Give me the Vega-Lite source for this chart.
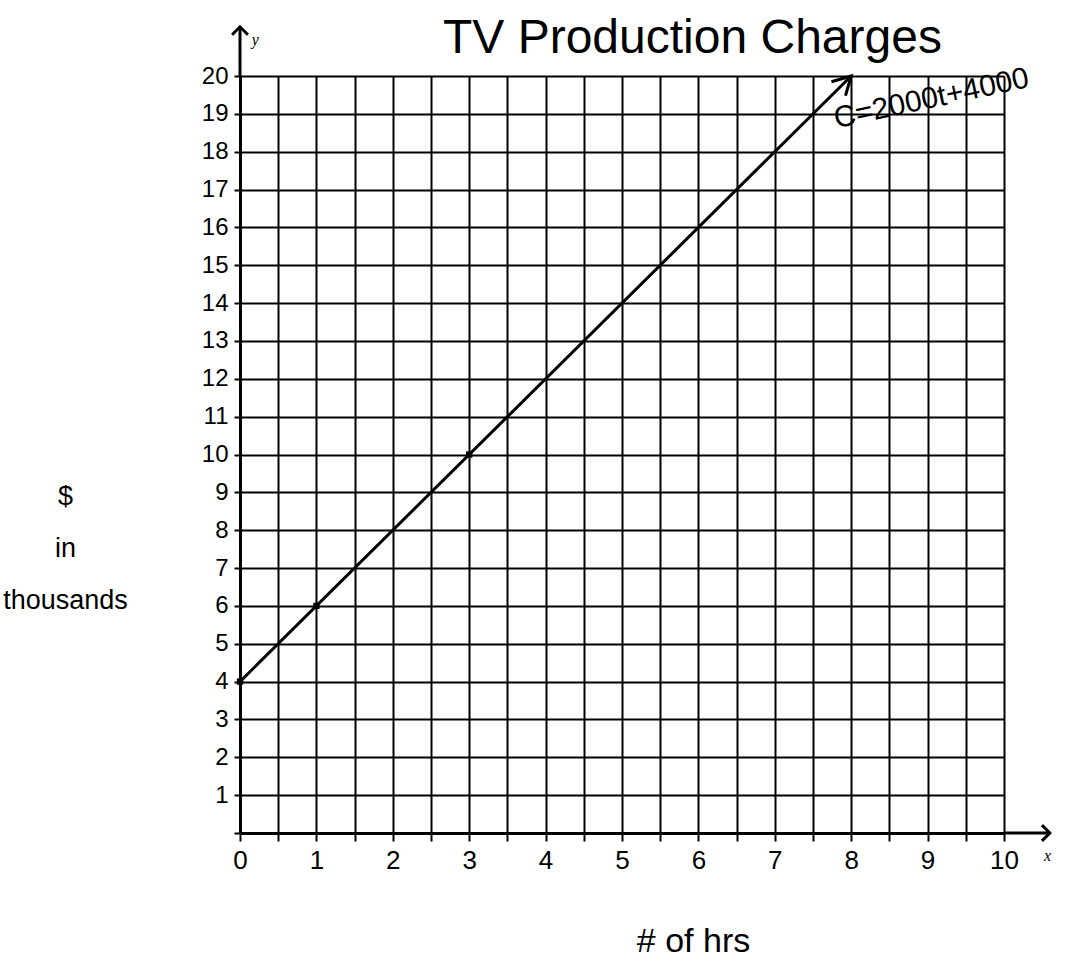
{
  "$schema": "https://vega.github.io/schema/vega-lite/v6.json",
  "autosize": {"type": "none"},
  "padding": {"left": 240, "top": 76, "right": 87, "bottom": 133},
  "width": 764,
  "height": 757,
  "background": "white",
  "config": {
    "view": {"stroke": null},
    "font": "Liberation Sans"
  },
  "title": {
    "text": "TV Production Charges",
    "fontSize": 48,
    "fontWeight": "normal",
    "font": "Liberation Sans",
    "color": "black",
    "anchor": "start",
    "frame": "group",
    "dx": 203,
    "offset": -42
  },
  "datasets": {
    "line": [{"t": 0, "C": 4}, {"t": 8, "C": 20}],
    "pts": [{"t": 0, "C": 4}, {"t": 1, "C": 6}, {"t": 3, "C": 10}],
    "head": [{"t": 8, "C": 20}],
    "yext": [{"t": 0, "C": 20, "C2": 21.3}],
    "xext": [{"t": 10, "t2": 10.6, "C": 0}],
    "yarrow": [{"t": 0, "C": 21.3}],
    "xarrow": [{"t": 10.6, "C": 0}],
    "notes": [
      {"t": 9.05, "C": 19.4, "label": "C=2000t+4000"}
    ],
    "axisnames": [
      {"t": 0.2, "C": 20.95, "label": "y"},
      {"t": 10.57, "C": -0.62, "label": "x"}
    ]
  },
  "encoding": {
    "x": {
      "field": "t", "type": "quantitative",
      "scale": {"domain": [0, 10], "nice": false, "zero": false},
      "axis": {
        "values": [0, 0.5, 1, 1.5, 2, 2.5, 3, 3.5, 4, 4.5, 5, 5.5, 6, 6.5, 7, 7.5, 8, 8.5, 9, 9.5, 10],
        "labelExpr": "datum.value % 1 === 0 ? format(datum.value, 'd') : ''",
        "labelOverlap": false,
        "labelFlush": false,
        "grid": true,
        "gridColor": "black",
        "gridOpacity": 1,
        "gridWidth": 2,
        "domainColor": "black",
        "domainWidth": 3,
        "tickColor": "black",
        "tickSize": 8,
        "tickWidth": 2,
        "labelFontSize": 26,
        "labelColor": "black",
        "labelPadding": 6,
        "title": "# of hrs",
        "titleFontSize": 34,
        "titleFontWeight": "normal",
        "titleColor": "black",
        "titleX": 453,
        "titleY": 118,
        "titleBaseline": "alphabetic",
        "titleAlign": "center"
      }
    },
    "y": {
      "field": "C", "type": "quantitative",
      "scale": {"domain": [0, 20], "nice": false, "zero": false},
      "axis": {
        "values": [0, 1, 2, 3, 4, 5, 6, 7, 8, 9, 10, 11, 12, 13, 14, 15, 16, 17, 18, 19, 20],
        "labelExpr": "datum.value === 0 ? '' : format(datum.value, 'd')",
        "labelOverlap": false,
        "labelFlush": false,
        "grid": true,
        "gridColor": "black",
        "gridOpacity": 1,
        "gridWidth": 2,
        "domainColor": "black",
        "domainWidth": 3,
        "tickColor": "black",
        "tickSize": 6,
        "tickWidth": 2,
        "labelFontSize": 24,
        "labelColor": "black",
        "labelPadding": 6,
        "title": ["$", "in", "thousands"],
        "titleAngle": 0,
        "titleFontSize": 27,
        "titleFontWeight": "normal",
        "titleColor": "black",
        "titleLineHeight": 52,
        "titleX": -175,
        "titleY": 428,
        "titleAlign": "center",
        "titleBaseline": "alphabetic"
      }
    }
  },
  "layer": [
    {
      "data": {"name": "line"},
      "mark": {"type": "line", "color": "black", "strokeWidth": 3}
    },
    {
      "data": {"name": "pts"},
      "mark": {"type": "point", "shape": "square", "filled": true, "color": "black", "size": 40, "opacity": 1}
    },
    {
      "data": {"name": "head"},
      "mark": {"type": "point", "shape": "M-0.55,1L0,0L0.55,1", "filled": false, "color": "black", "strokeWidth": 3, "size": 1300, "angle": 45, "opacity": 1}
    },
    {
      "data": {"name": "yext"},
      "mark": {"type": "rule", "color": "black", "strokeWidth": 3},
      "encoding": {
        "y2": {"field": "C2"}
      }
    },
    {
      "data": {"name": "xext"},
      "mark": {"type": "rule", "color": "black", "strokeWidth": 3},
      "encoding": {
        "x2": {"field": "t2"}
      }
    },
    {
      "data": {"name": "yarrow"},
      "mark": {"type": "point", "shape": "M-1,1L0,0L1,1", "filled": false, "color": "black", "strokeWidth": 3, "size": 250, "angle": 0, "opacity": 1}
    },
    {
      "data": {"name": "xarrow"},
      "mark": {"type": "point", "shape": "M-1,1L0,0L1,1", "filled": false, "color": "black", "strokeWidth": 3, "size": 250, "angle": 90, "opacity": 1}
    },
    {
      "data": {"name": "notes"},
      "mark": {"type": "text", "fontSize": 30, "color": "black", "angle": -12, "align": "center", "baseline": "middle", "font": "Liberation Sans"},
      "encoding": {
        "text": {"field": "label"}
      }
    },
    {
      "data": {"name": "axisnames"},
      "mark": {"type": "text", "fontSize": 16, "fontStyle": "italic", "font": "Liberation Serif", "color": "black", "align": "center", "baseline": "middle"},
      "encoding": {
        "text": {"field": "label"}
      }
    }
  ]
}
